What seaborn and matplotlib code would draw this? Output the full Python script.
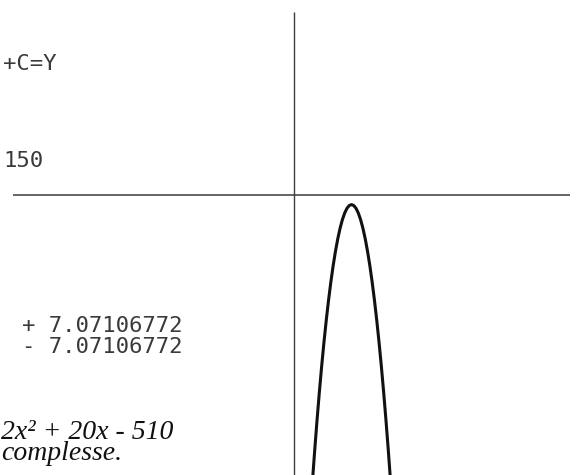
import numpy as np
import pandas as pd
import matplotlib.pyplot as plt
import seaborn as sns

# dati (unita' dello schermo)
x_curva = [1.6, 1.8, 2.0, 2.2, 2.4, 2.6, 2.8, 3.0, 3.2, 3.4, 3.6, 3.8, 4.0, 4.2, 4.4, 4.6, 4.8,
           5.0, 5.2, 5.4, 5.6, 5.8, 6.0, 6.2, 6.4, 6.6, 6.8, 7.0, 7.2, 7.4, 7.6, 7.8, 8.0, 8.2, 8.4]
y_curva = [-23.92, -21.28, -18.8, -16.48, -14.32, -12.32, -10.48, -8.8, -7.28, -5.92, -4.72,
           -3.68, -2.8, -2.08, -1.52, -1.12, -0.88,
           -0.8, -0.88, -1.12, -1.52, -2.08, -2.8, -3.68, -4.72, -5.92, -7.28, -8.8,
           -10.48, -12.32, -14.32, -16.48, -18.8, -21.28, -23.92]

# testi visibili a sinistra (la pagina e' tagliata dal bordo)
righe_mono = ["+C=Y", "150", "+ 7.07106772", "- 7.07106772"]
righe_testo = ["2x² + 20x - 510", "complesse."]

df = pd.DataFrame({'x': x_curva, 'y': y_curva})

sns.set_style('white')
fig = plt.figure(figsize=(5.82, 4.75), dpi=100)
ax = fig.add_axes([0, 0, 1, 1])

# scala: 11.5 px per unita' in x, 12 px per unita' in y
ax.set_xlim(-294 / 11.5, 288 / 11.5)
ax.set_ylim(-280 / 12, 195 / 12)
ax.axis('off')

# assi cartesiani
ax.plot([-281 / 11.5, 276 / 11.5], [0, 0], color='#3c3c3c', lw=1.1, solid_capstyle='butt')
ax.plot([0, 0], [183 / 12, -280 / 12], color='#3c3c3c', lw=1.0, solid_capstyle='butt')

# parabola
sns.lineplot(data=df, x='x', y='y', sort=False, ax=ax, color='#111111', lw=2.2)

W, H = 582, 475
pos_mono = [(57, 70), (43, 167), (182, 332), (182, 353)]
for testo, (px, py) in zip(righe_mono, pos_mono):
    fig.text(px / W, 1 - py / H, testo, ha='right', va='baseline',
             family='DejaVu Sans Mono', fontsize=16, color='#3a3a3a')

# testo del libro in corsivo, un solo blocco su due righe
fig.text(1 / W, 1 - 460 / H, "\n".join(righe_testo), ha='left', va='baseline',
         multialignment='left', linespacing=0.8,
         family='Liberation Serif', style='italic', fontsize=20, color='#111111')

fig.savefig('out.png', dpi=100)
